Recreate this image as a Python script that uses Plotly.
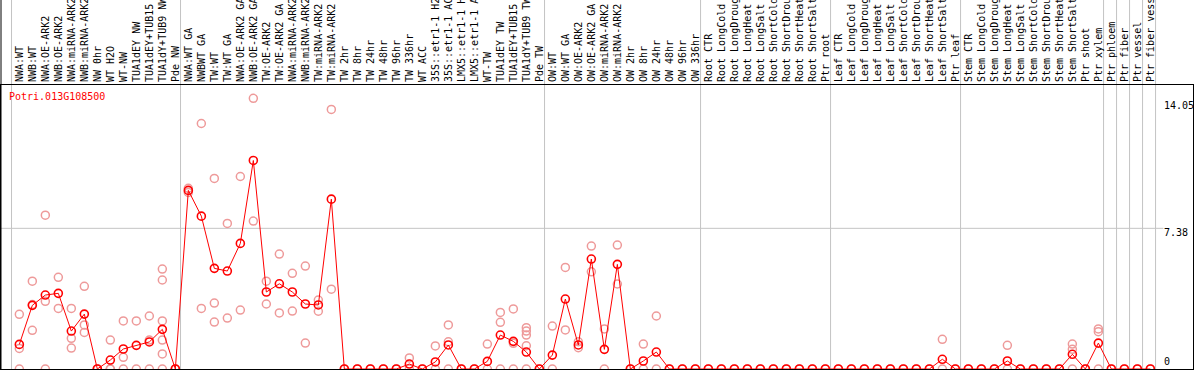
import plotly.graph_objects as go

categories = [
    "NWA:WT", "NWB:WT", "NWA:OE-ARK2", "NWB:OE-ARK2", "NWA:miRNA-ARK2", "NWB:miRNA-ARK2",
    "NW 0hr", "WT H2O", "WT-NW", "TUA1dEY NW", "TUA1dEY+TUB15", "TUA1dY+TUB9 NW", "Pde NW",
    "NWA:WT GA", "NWBWT GA", "TW:WT", "TW:WT GA", "NWA:OE-ARK2 GA", "NWB:OE-ARK2 GA",
    "TW:OE-ARK2", "TW:OE-ARK2 GA", "NWA:miRNA-ARK2", "NWB:miRNA-ARK2", "TW:miRNA-ARK2",
    "TW:miRNA-ARK2", "TW 2hr", "TW 8hr", "TW 24hr", "TW 48hr", "TW 96hr", "TW 336hr",
    "WT ACC", "35S::etr1-1 H2", "35S::etr1-1 AC", "LMX5::etr1-1 H", "LMX5::etr1-1 A",
    "WT-TW", "TUA1dEY TW", "TUA1dEY+TUB15", "TUA1dY+TUB9 TW", "Pde TW",
    "OW:WT", "OW:WT GA", "OW:OE-ARK2", "OW:OE-ARK2 GA", "OW:miRNA-ARK2", "OW:miRNA-ARK2",
    "OW 2hr", "OW 8hr", "OW 24hr", "OW 48hr", "OW 96hr", "OW 336hr",
    "Root CTR", "Root LongCold", "Root LongDroug", "Root LongHeat", "Root LongSalt",
    "Root ShortCold", "Root ShortDrou", "Root ShortHeat", "Root ShortSalt", "Ptr root",
    "Leaf CTR", "Leaf LongCold", "Leaf LongDroug", "Leaf LongHeat", "Leaf LongSalt",
    "Leaf ShortCold", "Leaf ShortDrou", "Leaf ShortHeat", "Leaf ShortSalt", "Ptr leaf",
    "Stem CTR", "Stem LongCold", "Stem LongDroug", "Stem LongHeat", "Stem LongSalt",
    "Stem ShortCold", "Stem ShortDrou", "Stem ShortHeat", "Stem ShortSalt", "Ptr shoot",
    "Ptr xylem", "Ptr phloem", "Ptr fiber", "Ptr vessel", "Ptr fiber vess",
]

means = [
    1.29, 3.34, 3.88, 3.97, 1.99, 2.88, 0, 0.47, 1.05, 1.24, 1.42, 2.08, 0,
    9.37, 8.02, 5.28, 5.14, 6.59, 10.94, 4.04, 4.47, 4.04, 3.41, 3.36, 8.91,
    0, 0, 0, 0, 0, 0.26, 0, 0.37, 1.26, 0, 0, 0.40, 1.78, 1.45, 0.89, 0,
    0.73, 3.67, 1.26, 5.77, 1.03, 5.49, 0, 0.42, 0.89, 0, 0, 0,
    0, 0, 0, 0, 0, 0, 0, 0, 0, 0,
    0, 0, 0, 0, 0, 0, 0, 0, 0.51, 0,
    0, 0, 0, 0.42, 0, 0, 0, 0, 0.77, 0, 1.36,
    0, 0, 0, 0,
]

replicates = [
    [2.87, 1.08, 0], [4.61, 2.03, 3.38], [8.07, 3.55, 0], [4.81, 3.18], [3.18, 1.61, 1.10],
    [4.34, 2.31, 1.92], [0, 0], [1.52, 0, 0], [2.52, 0.61, 0], [2.52, 0], [2.78, 1.52, 0],
    [5.24, 4.67, 2.52, 1.52, 0.79, 0], [0, 0],
    [9.48, 9.26], [12.88, 3.18], [10.0, 3.46, 2.46], [7.64, 2.67], [10.1, 3.09],
    [14.2, 7.76], [4.61, 3.41], [6.03, 2.94], [5.02, 3.04], [5.40, 1.36], [3.62, 3.03],
    [13.62, 4.19],
    [0], [0], [0], [0], [0], [0.58, 0], [0], [1.21, 0], [2.31, 1.43, 0], [0], [0],
    [1.31, 0], [2.97, 2.45, 0], [3.15, 1.35, 0], [2.17, 1.99, 1.78, 1.22, 0], [0],
    [2.25, 0], [5.33, 2.05], [1.43, 1.12], [6.45, 5.10], [2.10, 0], [6.50, 4.46],
    [0], [1.31, 0], [2.78, 0], [0], [0], [0],
    [0], [0], [0], [0], [0], [0], [0], [0], [0], [0],
    [0], [0], [0], [0], [0], [0], [0], [0], [1.56, 0], [0],
    [0], [0], [0], [1.24, 0], [0], [0], [0], [0], [1.31, 1.03, 0], [0], [2.10, 1.96, 0],
    [0], [0], [0], [0],
]

group_starts = [0, 13, 41, 53, 63, 73, 84, 85, 86, 87, 88]
gene_id = "Potri.013G108500"
tick_values = [14.05, 7.38, 0]

x_idx = list(range(len(categories)))
rep_x, rep_y = [], []
for i, vals in enumerate(replicates):
    for v in vals:
        rep_x.append(i)
        rep_y.append(v)

MONO = "DejaVu Sans Mono"
fig = go.Figure()
fig.add_trace(go.Scatter(
    x=rep_x, y=rep_y, mode="markers", cliponaxis=False,
    marker=dict(symbol="circle-open", size=8, color="#ee9a9a", line=dict(width=1.5, color="#ee9a9a")),
    hoverinfo="y", showlegend=False,
))
fig.add_trace(go.Scatter(
    x=x_idx, y=means, mode="lines+markers", cliponaxis=False,
    line=dict(color="#ff0000", width=1),
    marker=dict(symbol="circle-open", size=8, color="#ff0000", line=dict(width=1.6, color="#ff0000")),
    showlegend=False,
))

top_ext = 1 + 85 / 284
shapes = []
for b in group_starts:
    shapes.append(dict(type="line", xref="x", yref="paper", x0=b - 0.6, x1=b - 0.6, y0=0, y1=top_ext,
                       line=dict(color="#c4c4c4", width=1), layer="below"))
shapes.append(dict(type="line", xref="x", yref="y", x0=-1.41, x1=88.0, y0=tick_values[1], y1=tick_values[1],
                   line=dict(color="#c4c4c4", width=1), layer="below"))
shapes.append(dict(type="line", xref="paper", yref="paper", x0=0, x1=0, y0=0, y1=top_ext,
                   line=dict(color="black", width=1)))

annotations = [dict(text=gene_id, xref="paper", yref="paper", x=0.006, y=1 - (96.5 - 85) / 284,
                    xanchor="left", yanchor="middle", showarrow=False, borderpad=0,
                    font=dict(family=MONO, size=10, color="#ff0000"))]
for v in tick_values:
    annotations.append(dict(text=f"{v:g}" if v else "0", xref="x", yref="y", x=88.0, y=v,
                            xanchor="left", yanchor="top" if v else "bottom",
                            yshift=2 if v else 1, showarrow=False, borderpad=0,
                            font=dict(family=MONO, size=10, color="black")))

fig.update_layout(
    width=1194, height=370,
    margin=dict(l=1, r=1, t=85, b=1, pad=0, autoexpand=False),
    paper_bgcolor="white", plot_bgcolor="white",
    xaxis=dict(range=[-1.41, 90.28], side="top", tickmode="array", tickvals=x_idx, ticktext=categories,
               tickangle=-90, ticks="", showgrid=False, zeroline=False, automargin=False,
               showline=True, linecolor="black", linewidth=1, mirror=True,
               tickfont=dict(family=MONO, size=10, color="black")),
    yaxis=dict(range=[0, 14.9], showticklabels=False, ticks="", showgrid=False, zeroline=False,
               automargin=False,
               showline=True, linecolor="black", linewidth=1, mirror=True),
    shapes=shapes, annotations=annotations,
)
fig.write_html("out.html", config={"displayModeBar": False},
               post_script="document.body.style.margin='0px';document.body.style.overflow='hidden';")
